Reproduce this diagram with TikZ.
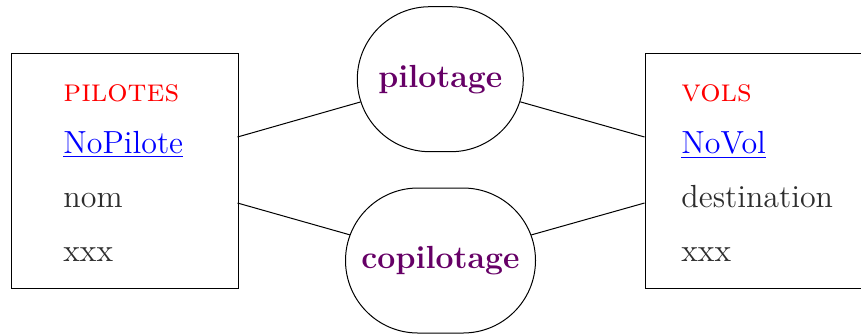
\documentclass[tikz,border=0pt]{standalone}
\usetikzlibrary{shapes.misc}
\definecolor{relcol}{RGB}{102,0,102}
\definecolor{attrcol}{RGB}{45,45,45}
\def\u{0.45pt}
\tikzset{
  entbox/.style={draw=black, line width=0.45pt, rectangle, inner sep=0pt},
  relbox/.style={draw=black, line width=0.45pt, rounded rectangle, inner sep=0pt,
    minimum height=145*\u, font=\Large\bfseries, text=relcol},
  enttitle/.style={anchor=base west, inner sep=0pt, font=\Large, text=red},
  keyattr/.style={anchor=base west, inner sep=0pt, font=\Large, text=blue},
  attr/.style={anchor=base west, inner sep=0pt, font=\Large, text=attrcol},
  link/.style={draw=black, line width=0.45pt}
}
\begin{document}
\begin{tikzpicture}[x=\u, y=-\u]
\useasboundingbox (0,0) rectangle (861,335);
% entities
\node[entbox, minimum width=227*\u, minimum height=235*\u, anchor=north west] (pil) at (10.5,52.5) {};
\node[entbox, minimum width=240*\u, minimum height=235*\u, anchor=north west] (vol) at (644.5,52.5) {};
% texts left
\node[enttitle] (pilT) at (63,101) {\textsc{pilotes}};
\node[keyattr] (pilK) at (63,153.3) {\underline{NoPilote}};
\node[attr] (pilA) at (63,207.7) {nom};
\node[attr] (pilB) at (63,261.7) {xxx};
% texts right
\node[enttitle] (volT) at (681,101) {\textsc{vols}};
\node[keyattr] (volK) at (681,153.3) {\underline{NoVol}};
\node[attr] (volA) at (681,207.7) {destination};
\node[attr] (volB) at (681,261.7) {xxx};
% relations
\node[relbox, minimum width=166*\u] (rp) at (440.3,79.2) {pilotage};
\node[relbox, minimum width=190*\u] (rc) at (440.5,260.5) {copilotage};
% anchor points on the boxes
\coordinate (L1) at (237.5,137);
\coordinate (L2) at (237.5,203);
\coordinate (R1) at (644.5,137);
\coordinate (R2) at (644.5,203);
% links
\draw[link] (L1) -- (rp);
\draw[link] (R1) -- (rp);
\draw[link] (L2) -- (rc);
\draw[link] (R2) -- (rc);
\end{tikzpicture}
\end{document}
